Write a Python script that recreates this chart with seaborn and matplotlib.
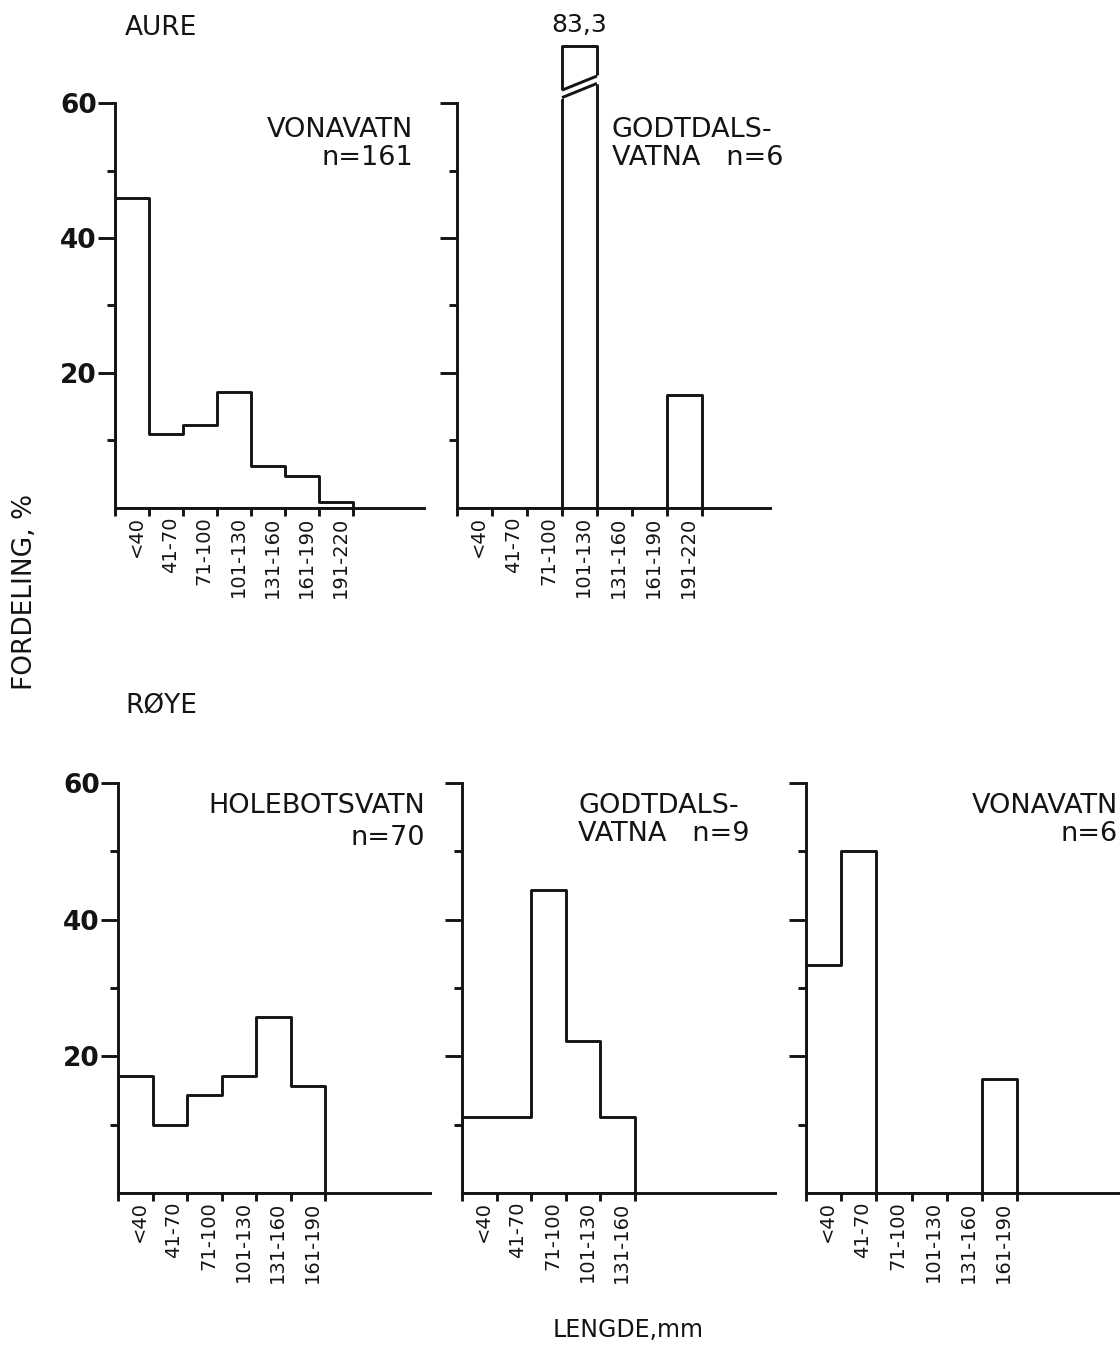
import numpy as np
import pandas as pd
import matplotlib
matplotlib.use("Agg")
import matplotlib.pyplot as plt
import seaborn as sns

# --- data: length-class distributions (% of catch) ---
aure_vona_classes = ["<40", "41-70", "71-100", "101-130", "131-160", "161-190", "191-220"]
aure_vona_pct = [46.0, 11.0, 12.3, 17.2, 6.2, 4.8, 0.9]

aure_godt_classes = ["<40", "41-70", "71-100", "101-130", "131-160", "161-190", "191-220"]
aure_godt_pct = [0.0, 0.0, 0.0, 83.3, 0.0, 0.0, 16.7]

roye_hole_classes = ["<40", "41-70", "71-100", "101-130", "131-160", "161-190"]
roye_hole_pct = [17.1, 10.0, 14.3, 17.1, 25.7, 15.7]

roye_godt_classes = ["<40", "41-70", "71-100", "101-130", "131-160"]
roye_godt_pct = [11.1, 11.1, 44.4, 22.2, 11.1]

roye_vona_classes = ["<40", "41-70", "71-100", "101-130", "131-160", "161-190"]
roye_vona_pct = [33.3, 50.0, 0.0, 0.0, 0.0, 16.7]

INK = "#141414"
LW = 2.1
W, H = 1120, 1366

sns.set_theme(style="ticks")
plt.rcParams["font.family"] = ["DejaVu Sans"]
plt.rcParams["axes.linewidth"] = LW
plt.rcParams["axes.edgecolor"] = INK
plt.rcParams["text.color"] = INK
plt.rcParams["xtick.color"] = INK
plt.rcParams["ytick.color"] = INK

fig = plt.figure(figsize=(W / 100, H / 100), dpi=100)


def px_axes(x0, x1, y_top, y_base):
    return fig.add_axes([x0 / W, 1 - y_base / H, (x1 - x0) / W, (y_base - y_top) / H])


def draw_panel(ax, classes, pct, xmax, ymax, ylabels, cap=None):
    n = len(classes)
    shown = [min(v, cap) if cap else v for v in pct]
    df = pd.DataFrame({"x": np.arange(n) + 0.5, "pct": shown})
    sns.histplot(data=df, x="x", weights="pct", bins=list(range(n + 1)),
                 element="step", fill=True, color="white", alpha=1,
                 edgecolor=INK, linewidth=LW, ax=ax)
    ax.set_xlim(0, xmax)
    ax.set_ylim(0, ymax)
    ax.set_xlabel("")
    ax.set_ylabel("")
    sns.despine(ax=ax)
    ax.spines["left"].set_bounds(0, 60)

    ax.set_yticks([20, 40, 60])
    ax.set_yticks([10, 30, 50], minor=True)
    if ylabels:
        ax.set_yticklabels(["20", "40", "60"], fontsize=19, fontweight="bold")
    else:
        ax.set_yticklabels([])
    ax.tick_params(axis="y", which="major", direction="out", length=12, width=LW, pad=1)
    ax.tick_params(axis="y", which="minor", direction="out", length=6, width=LW)

    ax.set_xticks(np.arange(n + 1))
    ax.set_xticklabels([])
    ax.set_xticks(np.arange(n) + 0.62, minor=True)
    ax.set_xticklabels(classes, minor=True, rotation=90, fontsize=14)
    ax.tick_params(axis="x", which="major", direction="out", length=6, width=LW)
    ax.tick_params(axis="x", which="minor", length=0, pad=6)


# top row (AURE): 0 -> y=508, 60 -> y=103
top_ymax = 70
top_y = 508 - top_ymax * (405 / 60)
ax1 = px_axes(115, 424, top_y, 508)
draw_panel(ax1, aure_vona_classes, aure_vona_pct, 309 / 34, top_ymax, True)

CAP = 68.4
ax2 = px_axes(457, 770, top_y, 508)
draw_panel(ax2, aure_godt_classes, aure_godt_pct, 313 / 35, top_ymax, False, cap=CAP)

# break marks on the clipped bar
i = int(np.argmax(aure_godt_pct))
lo = (60.8, 62.9)
hi = (61.9, 64.0)
ax2.fill_between([i - 0.08, i + 1.08], [lo[0] - 0.17, lo[1] + 0.17],
                 [hi[0] - 0.17, hi[1] + 0.17], color="white", zorder=5)
ax2.plot([i, i + 1], list(lo), color=INK, lw=LW, zorder=6, solid_capstyle="butt")
ax2.plot([i, i + 1], list(hi), color=INK, lw=LW, zorder=6, solid_capstyle="butt")
ax2.text(i + 0.5, CAP + 1.4, f"{max(aure_godt_pct):.1f}".replace(".", ","),
         ha="center", va="bottom", fontsize=18)

# bottom row (RØYE): 0 -> y=1193, 60 -> y=783
bot_ymax = 62
bot_y = 1193 - bot_ymax * (410 / 60)
ax3 = px_axes(118, 430, bot_y, 1193)
draw_panel(ax3, roye_hole_classes, roye_hole_pct, 312 / 34.5, bot_ymax, True)
ax4 = px_axes(462, 775, bot_y, 1193)
draw_panel(ax4, roye_godt_classes, roye_godt_pct, 313 / 34.6, bot_ymax, False)
ax5 = px_axes(806, 1120, bot_y, 1193)
draw_panel(ax5, roye_vona_classes, roye_vona_pct, 314 / 35.2, bot_ymax, False)


def ftext(x, y, s, **kw):
    fig.text(x / W, 1 - y / H, s, **kw)


name_kw = dict(fontsize=19.5, va="center")
ftext(413, 130, "VONAVATN", ha="right", **name_kw)
ftext(413, 158, "n=161", ha="right", **name_kw)
ftext(612, 130, "GODTDALS-", ha="left", **name_kw)
ftext(612, 158, "VATNA   n=6", ha="left", **name_kw)
ftext(425, 806, "HOLEBOTSVATN", ha="right", **name_kw)
ftext(425, 838, "n=70", ha="right", **name_kw)
ftext(578, 806, "GODTDALS-", ha="left", **name_kw)
ftext(578, 834, "VATNA   n=9", ha="left", **name_kw)
ftext(1118, 806, "VONAVATN", ha="right", **name_kw)
ftext(1118, 834, "n=6", ha="right", **name_kw)

ftext(125, 28, "AURE", ha="left", va="center", fontsize=19)
ftext(125, 706, "RØYE", ha="left", va="center", fontsize=19)
ftext(25, 592, "FORDELING, %", ha="center", va="center", rotation=90, fontsize=19)
ftext(628, 1330, "LENGDE,mm", ha="center", va="center", fontsize=17)

fig.savefig("out.png", dpi=100, facecolor="white")
